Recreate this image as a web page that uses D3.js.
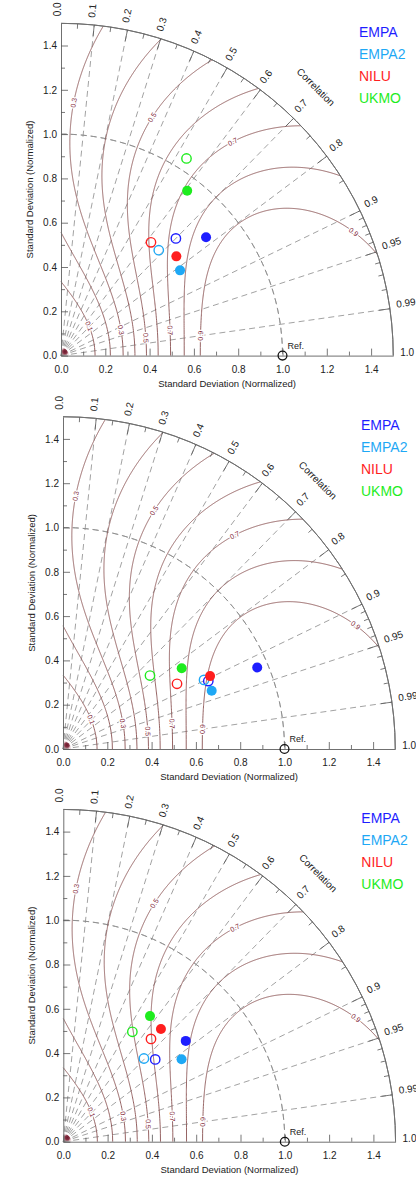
<!DOCTYPE html>
<html>
<head>
<meta charset="utf-8">
<script src="https://cdn.jsdelivr.net/npm/d3@7"></script>
<style>
  body { margin: 0; background: #fff; }
  svg { display: block; font-family: "Liberation Sans", Arial, sans-serif; }
</style>
</head>
<body>
<div id="wrapper"></div>
<script>
// models and their colours
const models = ["EMPA", "EMPA2", "NILU", "UKMO"]
const modelColors = ["#1e1eff", "#1ea8f5", "#ff1e1e", "#1eec1e"]

// panel 1 (std normalized, correlation) - filled and open markers
const p1FilledStd  = [0.845, 0.661, 0.687, 0.937]
const p1FilledCorr = [0.775, 0.813, 0.758, 0.608]
const p1OpenStd    = [0.741, 0.649, 0.653, 1.055]
const p1OpenCorr   = [0.700, 0.680, 0.622, 0.537]
// panel 2
const p2FilledStd  = [0.951, 0.721, 0.741, 0.648]
const p2FilledCorr = [0.922, 0.931, 0.896, 0.827]
const p2OpenStd    = [0.724, 0.709, 0.593, 0.514]
const p2OpenCorr   = [0.906, 0.898, 0.868, 0.764]
// panel 3
const p3FilledStd  = [0.716, 0.651, 0.673, 0.689]
const p3FilledCorr = [0.772, 0.820, 0.655, 0.568]
const p3OpenStd    = [0.557, 0.523, 0.610, 0.586]
const p3OpenCorr   = [0.745, 0.696, 0.649, 0.532]

const refStd = 1.0
const stdMax = 1.5
const stdTicks = [0, 0.2, 0.4, 0.6, 0.8, 1.0, 1.2, 1.4]
const stdMinorTicks = [0.1, 0.3, 0.5, 0.7, 0.9, 1.1, 1.3]
const corrMajor = [0.1, 0.2, 0.3, 0.4, 0.5, 0.6, 0.7, 0.8, 0.9, 0.95, 0.99]
const corrMinor = [0.05, 0.15, 0.25, 0.35, 0.45, 0.55, 0.65, 0.75, 0.85,
                   0.91, 0.92, 0.93, 0.94, 0.96, 0.97, 0.98]
const corrLabels = [0, ...corrMajor, 1]
// Taylor skill score contours, S = 4(1+R)^2 / ((s+1/s)^2 (1+R0)^2)
const skillLevels = [0.1, 0.2, 0.3, 0.4, 0.5, 0.6, 0.7, 0.8, 0.9]
const skillR0 = 0.9
// where the contour labels sit (correlation along each branch)
const innerLabelLevels = [0.1, 0.3, 0.5, 0.7, 0.9]
const innerLabelCorr = [0.69, 0.92, 0.979, 0.974, 0.99]
const outerLabelLevels = [0.3, 0.5, 0.7, 0.9]
const outerLabelCorr = [0.05, 0.357, 0.626, 0.921]

const panels = [
  { ox: 61, oy: 355.6, filledStd: p1FilledStd, filledCorr: p1FilledCorr, openStd: p1OpenStd, openCorr: p1OpenCorr },
  { ox: 63, oy: 749, filledStd: p2FilledStd, filledCorr: p2FilledCorr, openStd: p2OpenStd, openCorr: p2OpenCorr },
  { ox: 63.3, oy: 1141.7, filledStd: p3FilledStd, filledCorr: p3FilledCorr, openStd: p3OpenStd, openCorr: p3OpenCorr },
]
const unit = 221.5

const width = 416
const height = 1179
const svg = d3.select("#wrapper")
  .append("svg")
    .attr("width", width)
    .attr("height", height)

const defs = svg.append("defs")
const grad = defs.append("radialGradient")
    .attr("id", "blob")
grad.append("stop").attr("offset", "0%").attr("stop-color", "#6a1a2c")
grad.append("stop").attr("offset", "55%").attr("stop-color", "#8a3346")
grad.append("stop").attr("offset", "100%").attr("stop-color", "#c98a96").attr("stop-opacity", 0.3)

const fmt1 = d3.format(".1f")
const corrFmt = d => (d === 0 || d === 1 || Math.round(d * 10) === d * 10) ? fmt1(d) : String(d)
const skillC = 4 / ((1 + skillR0) ** 2)

function drawPanel(p) {
  const g = svg.append("g")
  const xScale = d3.scaleLinear().domain([0, stdMax]).range([p.ox, p.ox + stdMax * unit])
  const yScale = d3.scaleLinear().domain([0, stdMax]).range([p.oy, p.oy - stdMax * unit])
  const rPx = s => xScale(s) - xScale(0)
  const polar = (s, r) => [xScale(s * r), yScale(s * Math.sqrt(Math.max(0, 1 - r * r)))]

  // radial dashed lines at the correlation values
  g.append("g")
    .selectAll("path")
    .data(corrMajor)
    .join("path")
      .attr("d", r => d3.line()([polar(0, r), polar(stdMax, r)]))
      .attr("fill", "none")
      .attr("stroke", "#8a8a8a")
      .attr("stroke-width", 0.8)
      .attr("stroke-dasharray", "6,4")

  // dashed arc through the reference std
  g.append("path")
      .attr("d", d3.arc()({ innerRadius: rPx(refStd), outerRadius: rPx(refStd), startAngle: 0, endAngle: Math.PI / 2 }))
      .attr("transform", `translate(${xScale(0)},${yScale(0)})`)
      .attr("fill", "none")
      .attr("stroke", "#8a8a8a")
      .attr("stroke-width", 0.8)
      .attr("stroke-dasharray", "6,4")

  // skill score contours
  const contourLine = d3.line()
    .defined(d => d.r >= -1e-7 && d.r <= 1 + 1e-7)
    .x(d => polar(d.s, Math.min(1, Math.max(0, d.r)))[0])
    .y(d => polar(d.s, Math.min(1, Math.max(0, d.r)))[1])
  const contourPts = S => {
    const k = Math.sqrt(S / skillC)
    const roots = []
    ;[0, 1].forEach(r => {
      const u = (1 + r) / k
      if (u >= 2) {
        const q = Math.sqrt(u * u - 4)
        roots.push((u - q) / 2, (u + q) / 2)
      }
    })
    const sig = d3.range(0.002, stdMax, 0.002)
      .concat(roots.filter(s => s > 0 && s <= stdMax), [stdMax])
      .sort(d3.ascending)
    return sig.map(s => ({ s, r: k * (s + 1 / s) - 1 }))
  }
  g.append("g")
    .selectAll("path")
    .data(skillLevels)
    .join("path")
      .attr("d", S => contourLine(contourPts(S)))
      .attr("fill", "none")
      .attr("stroke", "#8a5252")
      .attr("stroke-width", 0.9)

  // contour labels
  const branchSigma = (S, r, outer) => {
    const k = Math.sqrt(S / skillC)
    const u = (1 + r) / k
    const q = Math.sqrt(Math.max(0, u * u - 4))
    return outer ? (u + q) / 2 : (u - q) / 2
  }
  const labelData = innerLabelLevels.map((S, i) => ({ S, r: innerLabelCorr[i], outer: false }))
    .concat(outerLabelLevels.map((S, i) => ({ S, r: outerLabelCorr[i], outer: true })))
  g.append("g")
    .selectAll("text")
    .data(labelData)
    .join("text")
      .attr("transform", d => {
        const s = branchSigma(d.S, d.r, d.outer)
        const k = Math.sqrt(d.S / skillC)
        const rAt = ss => Math.min(1, Math.max(0, k * (ss + 1 / ss) - 1))
        const a = polar(s - 0.01, rAt(s - 0.01))
        const b = polar(s + 0.01, rAt(s + 0.01))
        const c = polar(s, d.r)
        let ang = Math.atan2(b[1] - a[1], b[0] - a[0]) * 180 / Math.PI
        if (ang > 90) ang -= 180
        if (ang < -90) ang += 180
        return `translate(${c[0]},${c[1]}) rotate(${ang})`
      })
      .attr("text-anchor", "middle")
      .attr("dy", "0.35em")
      .attr("font-size", 7)
      .attr("fill", "#7e2233")
      .attr("stroke", "#fff")
      .attr("stroke-width", 2.5)
      .attr("paint-order", "stroke")
      .text(d => fmt1(d.S))

  // blob at the origin where the contours collapse
  g.append("path")
      .attr("d", d3.arc()({ innerRadius: 0, outerRadius: 8, startAngle: 0, endAngle: Math.PI / 2 }))
      .attr("transform", `translate(${xScale(0)},${yScale(0)})`)
      .attr("fill", "url(#blob)")

  // outer correlation arc
  g.append("path")
      .attr("d", d3.arc()({ innerRadius: rPx(stdMax), outerRadius: rPx(stdMax), startAngle: 0, endAngle: Math.PI / 2 }))
      .attr("transform", `translate(${xScale(0)},${yScale(0)})`)
      .attr("fill", "none")
      .attr("stroke", "#707070")
      .attr("stroke-width", 1)

  // correlation ticks
  const tickSeg = (r, len) => {
    const th = Math.acos(r)
    const R = rPx(stdMax)
    const x0 = xScale(0), y0 = yScale(0)
    return d3.line()([
      [x0 + R * Math.cos(th), y0 - R * Math.sin(th)],
      [x0 + (R - len) * Math.cos(th), y0 - (R - len) * Math.sin(th)],
    ])
  }
  g.append("g")
    .selectAll("path")
    .data(corrMajor.map(r => ({ r, len: 11 })).concat(corrMinor.map(r => ({ r, len: 5 }))))
    .join("path")
      .attr("d", d => tickSeg(d.r, d.len))
      .attr("stroke", "#555")
      .attr("stroke-width", 0.8)

  // correlation labels
  g.append("g")
    .selectAll("text")
    .data(corrLabels)
    .join("text")
      .attr("transform", r => {
        const th = Math.acos(r)
        const R = rPx(stdMax) + 7
        return `translate(${xScale(0) + R * Math.cos(th)},${yScale(0) - R * Math.sin(th)}) rotate(${-th * 180 / Math.PI})`
      })
      .attr("font-size", 10)
      .attr("fill", "#222")
      .text(corrFmt)

  const cTh = 46.5 * Math.PI / 180
  const cR = rPx(stdMax) + 38
  g.append("text")
      .attr("transform", `translate(${xScale(0) + cR * Math.cos(cTh)},${yScale(0) - cR * Math.sin(cTh)}) rotate(45)`)
      .attr("text-anchor", "middle")
      .attr("dy", "0.35em")
      .attr("font-size", 10)
      .attr("fill", "#222")
      .text("Correlation")

  // axes
  g.append("g")
      .attr("transform", `translate(0,${yScale(0)})`)
      .call(d3.axisBottom(xScale).tickValues(stdTicks).tickFormat(fmt1)
        .tickSizeInner(-7).tickSizeOuter(0).tickPadding(10))
  g.append("g")
      .attr("transform", `translate(${xScale(0)},0)`)
      .call(d3.axisLeft(yScale).tickValues(stdTicks).tickFormat(fmt1)
        .tickSizeInner(-7).tickSizeOuter(0).tickPadding(4))
  g.append("g")
      .attr("transform", `translate(0,${yScale(0)})`)
      .call(d3.axisBottom(xScale).tickValues(stdMinorTicks).tickFormat("")
        .tickSizeInner(-4).tickSizeOuter(0))
    .call(a => a.select(".domain").remove())
  g.append("g")
      .attr("transform", `translate(${xScale(0)},0)`)
      .call(d3.axisLeft(yScale).tickValues(stdMinorTicks).tickFormat("")
        .tickSizeInner(-4).tickSizeOuter(0))
    .call(a => a.select(".domain").remove())
  g.selectAll(".domain").attr("stroke", "#707070")
  g.selectAll(".tick line").attr("stroke", "#555").attr("stroke-width", 0.8)
  g.selectAll(".tick text")
      .attr("font-family", "Liberation Sans, Arial, sans-serif")
      .attr("font-size", 10)
      .attr("fill", "#222")

  g.append("text")
      .attr("x", xScale(stdMax / 2))
      .attr("y", yScale(0) + 31)
      .attr("text-anchor", "middle")
      .attr("font-size", 9.5)
      .attr("fill", "#222")
      .text("Standard Deviation (Normalized)")
  g.append("text")
      .attr("transform", `translate(${xScale(0) - 28},${yScale(stdMax / 2)}) rotate(-90)`)
      .attr("text-anchor", "middle")
      .attr("font-size", 9.5)
      .attr("fill", "#222")
      .text("Standard Deviation (Normalized)")

  // reference point
  g.append("circle")
      .attr("cx", xScale(refStd))
      .attr("cy", yScale(0))
      .attr("r", 4.4)
      .attr("fill", "none")
      .attr("stroke", "#111")
      .attr("stroke-width", 1.3)
  g.append("text")
      .attr("x", xScale(refStd) + 5)
      .attr("y", yScale(0) - 7)
      .attr("font-size", 9)
      .attr("fill", "#222")
      .text("Ref.")

  // model points: open then filled
  g.append("g")
    .selectAll("circle")
    .data(models.map((m, i) => ({ i, s: p.openStd[i], r: p.openCorr[i] })))
    .join("circle")
      .attr("cx", d => polar(d.s, d.r)[0])
      .attr("cy", d => polar(d.s, d.r)[1])
      .attr("r", 4.7)
      .attr("fill", "none")
      .attr("stroke", d => modelColors[d.i])
      .attr("stroke-width", 1.4)
  g.append("g")
    .selectAll("circle")
    .data(models.map((m, i) => ({ i, s: p.filledStd[i], r: p.filledCorr[i] })))
    .join("circle")
      .attr("cx", d => polar(d.s, d.r)[0])
      .attr("cy", d => polar(d.s, d.r)[1])
      .attr("r", 5)
      .attr("fill", d => modelColors[d.i])

  // legend
  g.append("g")
    .selectAll("text")
    .data(models)
    .join("text")
      .attr("x", xScale(0) + 298)
      .attr("y", (m, i) => yScale(stdMax) + 8.5 + i * 22)
      .attr("dy", "0.35em")
      .attr("font-size", 14)
      .attr("fill", (m, i) => modelColors[i])
      .text(m => m)
}

panels.forEach(drawPanel)
</script>
</body>
</html>
